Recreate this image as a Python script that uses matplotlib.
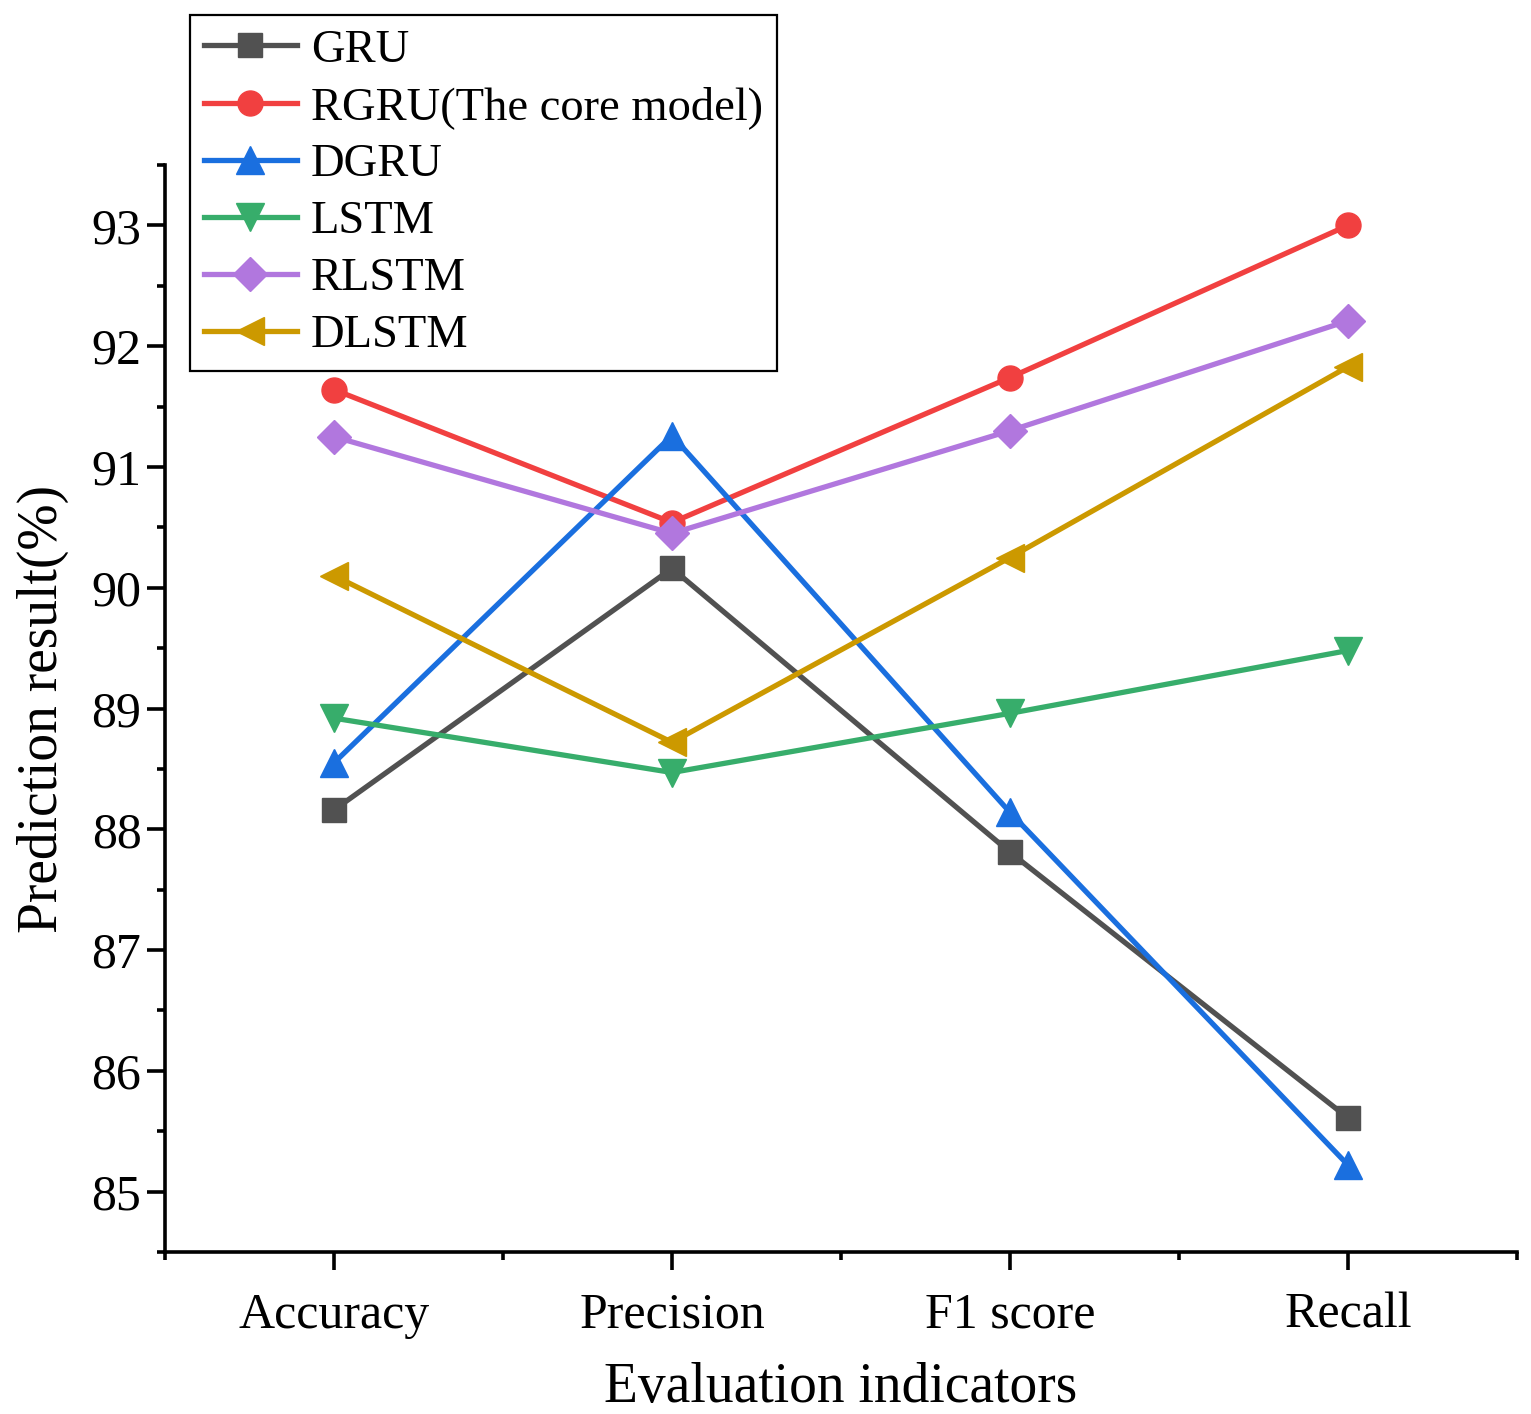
import matplotlib
matplotlib.use("Agg")
import matplotlib.pyplot as plt
import numpy as np

plt.rcParams['font.family'] = ['Liberation Serif', 'DejaVu Serif']

# data
indicators = ['Accuracy', 'Precision', 'F1 score', 'Recall']
models = ['GRU', 'RGRU(The core model)', 'DGRU', 'LSTM', 'RLSTM', 'DLSTM']
gru = [88.16, 90.16, 87.81, 85.61]
rgru = [91.64, 90.54, 91.74, 93.00]
dgru = [88.55, 91.26, 88.14, 85.22]
lstm = [88.92, 88.47, 88.96, 89.48]
rlstm = [91.25, 90.45, 91.30, 92.21]
dlstm = [90.10, 88.72, 90.25, 91.83]

series = [gru, rgru, dgru, lstm, rlstm, dlstm]
colors = ['#515151', '#F14040', '#1A6FDF', '#37AD6B', '#B177DE', '#CC9900']
markers = ['s', 'o', '^', 'v', 'D', '<']
msizes = [17, 18, 20, 20, 17, 20]

fig = plt.figure(figsize=(15.31, 14.14), dpi=100)
ax = fig.add_axes([165 / 1531, 1 - 1252 / 1414, (1517 - 165) / 1531, (1252 - 165) / 1414])

x = np.arange(len(indicators))
for vals, name, c, m, ms in zip(series, models, colors, markers, msizes):
    ax.plot(x, vals, color=c, marker=m, markersize=ms, linewidth=3.8,
            markeredgecolor=c, label=name)

ax.set_xlim(-0.5, 3.5)
ax.set_ylim(84.5, 93.5)
ax.set_xticks(x)
ax.set_xticklabels(indicators)
ax.set_xticks(np.arange(-0.5, 3.6, 1.0), minor=True)
ax.set_yticks(np.arange(85, 93.1, 1))
ax.set_yticks(np.arange(84.5, 93.6, 0.5), minor=True)

for s in ['top', 'right']:
    ax.spines[s].set_visible(False)
for s in ['left', 'bottom']:
    ax.spines[s].set_linewidth(2.6)

ax.tick_params(which='major', direction='out', length=13, width=2.6, labelsize=36)
ax.tick_params(which='minor', direction='out', length=6, width=2.6)
ax.tick_params(axis='x', which='major', pad=16)
ax.tick_params(axis='y', which='major', pad=4)

ax.set_xlabel('Evaluation indicators', fontsize=40, labelpad=17)
ax.set_ylabel('Prediction result(%)', fontsize=40, labelpad=16)

leg = ax.legend(loc='upper left', bbox_to_anchor=(190 / 1531, 1 - 15 / 1414),
                bbox_transform=fig.transFigure, borderaxespad=0, fontsize=33.5,
                handlelength=2.0, handletextpad=0.3, labelspacing=0.31,
                borderpad=0.3, fancybox=False, framealpha=1)
leg.get_frame().set_edgecolor('black')
leg.get_frame().set_linewidth(1.6)

fig.savefig('out.png', dpi=100)
